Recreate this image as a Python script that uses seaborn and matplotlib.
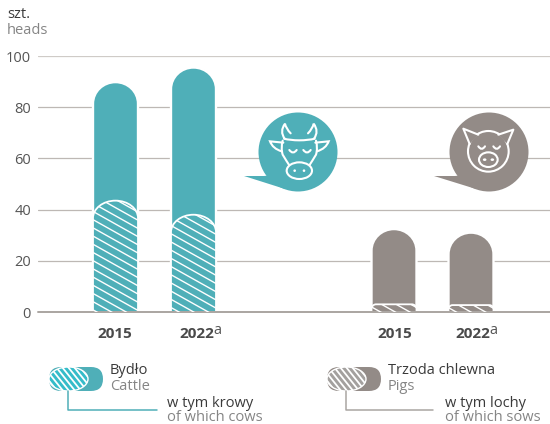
import numpy as np
import pandas as pd
import matplotlib
matplotlib.use("Agg")
import matplotlib.pyplot as plt
import seaborn as sns
from matplotlib.path import Path
from matplotlib.patches import PathPatch, Ellipse, Circle, Polygon, FancyBboxPatch
from matplotlib.collections import LineCollection

# ---- data ----
species = ["Bydło", "Bydło", "Trzoda", "Trzoda"]
years = ["2015", "2022", "2015", "2022"]
totals = [89.8, 95.5, 32.4, 31.0]
of_which = [43.5, 38.0, 3.0, 2.7]
y_ticks = [0, 20, 40, 60, 80, 100]

# ---- layout (pixels of the 550x424 picture) ----
bar_px = [115.5, 193.5, 394.0, 471.0]
label_px = [114.5, 196.5, 394.5, 472.5]
TEAL, TAUPE = "#4FAFB8", "#938B87"
LEG_TEAL, LEG_TAUPE = "#35BCC9", "#A3A09E"
DARK, GREY = "#3A3A3A", "#858585"
palette = {"Bydło": TEAL, "Trzoda": TAUPE}

sns.set_theme(style="white")
plt.rcParams["font.family"] = ["Open Sans", "DejaVu Sans"]
W, H = 550, 424
fig = plt.figure(figsize=(W / 100, H / 100), dpi=100)
L, R, T, B = 38, 550, 56, 312
ax = fig.add_axes([L / W, 1 - B / H, (R - L) / W, (B - T) / H])
ov = fig.add_axes([0, 0, 1, 1], zorder=5)
ov.set_xlim(0, W); ov.set_ylim(H, 0); ov.axis("off"); ov.patch.set_alpha(0)

df = pd.DataFrame({"pos": bar_px, "species": species, "year": years,
                   "total": totals, "part": of_which})
bw = 45 / 77
sns.barplot(data=df, x="pos", y="total", hue="species", palette=palette, native_scale=True,
            dodge=False, width=bw, legend=False, ax=ax, saturation=1)
n_total = len(ax.patches)
sns.barplot(data=df, x="pos", y="part", hue="species", palette=palette, native_scale=True,
            dodge=False, width=bw, legend=False, ax=ax, saturation=1)

ax.set_xlim(L, R); ax.set_ylim(0, 100)
ax.set_xlabel(""); ax.set_ylabel("")
ax.set_yticks(y_ticks)
ax.set_xticks(label_px, years)
ax.tick_params(axis="y", length=0, pad=5, labelsize=10.5, labelcolor="#555555")
ax.tick_params(axis="x", length=0, pad=11, labelsize=11, labelcolor="#4A4A4A")
for t in ax.get_xticklabels():
    t.set_fontweight("bold")
ax.yaxis.grid(True, color="#BDB8B4", lw=0.9); ax.set_axisbelow(True)
sns.despine(ax=ax, left=True, top=True, right=True, bottom=True)
ax.get_ygridlines()[-1].set_color("#CFCBC7")
ax.get_ygridlines()[0].set_visible(False)

PX_PER_UNIT = (B - T) / 100
K = 0.5523


def rounded(x0, x1, h, rx, ry_px):
    """Bar outline with elliptical top corners, in data units."""
    ry = ry_px / PX_PER_UNIT
    verts = [(x0, 0), (x0, h - ry),
             (x0, h - ry + K * ry), (x0 + rx - K * rx, h), (x0 + rx, h),
             (x1 - rx, h),
             (x1 - rx + K * rx, h), (x1, h - ry + K * ry), (x1, h - ry),
             (x1, 0), (x0, 0)]
    codes = [Path.MOVETO, Path.LINETO, Path.CURVE4, Path.CURVE4, Path.CURVE4, Path.LINETO,
             Path.CURVE4, Path.CURVE4, Path.CURVE4, Path.LINETO, Path.CLOSEPOLY]
    return Path(verts, codes)


def hatch_lines(x0, x1, y0, y1, slope, step):
    """White diagonal strokes covering a pixel box (overlay coordinates)."""
    span = (x1 - x0) * slope
    return [[(x0, c), (x1, c + span)] for c in np.arange(y0 - span, y1 + step, step)]


bars = list(ax.patches)
for i, bar in enumerate(bars):
    x0, w, h = bar.get_x(), bar.get_width(), bar.get_height()
    colour = bar.get_facecolor()
    bar.set_visible(False)
    is_part = i >= n_total
    hpx = h * PX_PER_UNIT
    if hpx > 30:
        rx, ry = w / 2, (17.5 if is_part else 21.5)
    else:
        rx, ry = hpx * 0.6, hpx * 0.6
    pp = PathPatch(rounded(x0, x0 + w, h, rx, ry), fc=colour, ec="white", lw=1.7 if not is_part else 1.3,
                   zorder=3 + is_part)
    ax.add_patch(pp)
    if is_part:
        seg = hatch_lines(x0, x0 + w, B - hpx - 5, B, 0.56, 8.2)
        lc = LineCollection(seg, colors="white", linewidths=1.0, transform=ov.transData, zorder=6)
        ov.add_collection(lc)
        lc.set_clip_path(PathPatch(pp.get_path(), transform=ax.transData))

ax.axhline(0, color="#AAA5A1", lw=1.4, zorder=7, clip_on=False)

# superscripts
for px in (label_px[1] + 20.5, label_px[3] + 20.5):
    ov.text(px, 330, "a", fontsize=10.5, color="#555555", ha="center", va="center")

# axis title
ov.text(7, 15, "szt.", fontsize=10.5, color=DARK, va="center")
ov.text(7, 30.5, "heads", fontsize=10.5, color=GREY, va="center")


# ---- speech bubbles ----
def bubble(cx, cy, tip_x, colour):
    ov.add_patch(Polygon([(tip_x, cy + 24), (cx - 13, cy + 37), (cx, cy + 20), (cx - 34, cy + 24)],
                         closed=True, fc=colour, ec="none"))
    ov.add_patch(Circle((cx, cy), 39.5, fc=colour, ec="none"))


LW = 1.5


def stroke(pts, ox, oy, curve=False, fill=None):
    pts = [(ox + x / 3, oy + y / 3) for x, y in pts]
    if curve:
        codes = [Path.MOVETO] + [Path.CURVE3] * (len(pts) - 1)
        ov.add_patch(PathPatch(Path(pts, codes), fc="none", ec="white", lw=LW, capstyle="round"))
    else:
        if fill:
            ov.add_patch(Polygon(pts, closed=True, fc=fill, ec="none"))
        ov.plot(*zip(*pts), color="white", lw=LW, solid_capstyle="round", solid_joinstyle="round")


bubble(298, 152, 244, TEAL)
bubble(489, 152, 434, TAUPE)

# cow
ox, oy = 240, 108
for s in (1, -1):
    m = lambda x: 178 + s * (x - 178)
    stroke([(m(134), 92), (m(118), 70), (m(135), 47), (m(138), 62), (m(152), 76)], ox, oy, curve=True)
    stroke([(m(130), 104), (m(110), 102), (m(90), 100), (m(98), 122), (m(125), 130)], ox, oy, curve=True)
    stroke([(m(128), 98), (m(122), 120), (m(128), 140), (m(140), 160), (m(148), 172)], ox, oy, curve=True)
stroke([(132, 92), (150, 97), (178, 97), (206, 97), (224, 92)], ox, oy, curve=True)
ov.add_patch(Ellipse((ox + 178 / 3, oy + 188 / 3), 76 / 3, 50 / 3, fc=TEAL, ec="white", lw=LW))
for c in (159, 201):
    stroke([(c - 11, 126), (c, 141), (c + 11, 126)], ox, oy, curve=True)
for c in (164, 192):
    ov.add_patch(Circle((ox + c / 3, oy + 188 / 3), 1.3, fc="white", ec="none"))

# pig
ox, oy = 430, 108
ov.add_patch(Circle((ox + 175 / 3, oy + 130 / 3), 61 / 3, fc=TAUPE, ec="white", lw=LW))
stroke([(145, 80), (100, 62), (119, 108)], ox, oy, fill=TAUPE)
stroke([(205, 80), (250, 65), (232, 108)], ox, oy, fill=TAUPE)
ov.add_patch(Ellipse((ox + 175 / 3, oy + 155 / 3), 56 / 3, 44 / 3, fc=TAUPE, ec="white", lw=LW))
for c in (155, 200):
    stroke([(c - 10, 115), (c, 130), (c + 10, 115)], ox, oy, curve=True)
for c in (164, 187):
    ov.add_patch(Ellipse((ox + c / 3, oy + 155 / 3), 3.6, 2.6, fc="white", ec="none"))


# ---- legend ----
def legend(x, solid, hatched, line, name, name_en, sub, sub_en, line_end, tx, sx):
    y0, y1 = 367, 391
    ym, r = (y0 + y1) / 2, (y1 - y0) / 2
    ov.add_patch(FancyBboxPatch((x, y0), 54, y1 - y0,
                 boxstyle=f"round,pad=0,rounding_size={r}", fc=solid, ec="none"))
    e = Ellipse((x + 19.5, ym), 39, 24, fc=hatched, ec="white", lw=1.0)
    ov.add_patch(e)
    lc = LineCollection(hatch_lines(x - 5, x + 45, y0 - 50, y1 + 50, 1.25, 7.5), colors="white", linewidths=1.3)
    ov.add_collection(lc)
    lc.set_clip_path(e)
    lx = x + 19
    ov.plot([lx, lx, line_end], [y1, 410, 410], color=line, lw=1.1)
    ov.text(tx, 371, name, fontsize=10.5, color=DARK, va="center")
    ov.text(tx, 387, name_en, fontsize=10.5, color=GREY, va="center")
    ov.text(sx, 403.5, sub, fontsize=10.5, color=DARK, va="center")
    ov.text(sx, 417.5, sub_en, fontsize=10.5, color=GREY, va="center")


legend(49, TEAL, LEG_TEAL, TEAL, "Bydło", "Cattle", "w tym krowy", "of which cows", 157, 110, 167)
legend(327, TAUPE, LEG_TAUPE, "#A9A5A2", "Trzoda chlewna", "Pigs", "w tym lochy", "of which sows", 433, 388, 445)

fig.savefig("out.png", dpi=100)
